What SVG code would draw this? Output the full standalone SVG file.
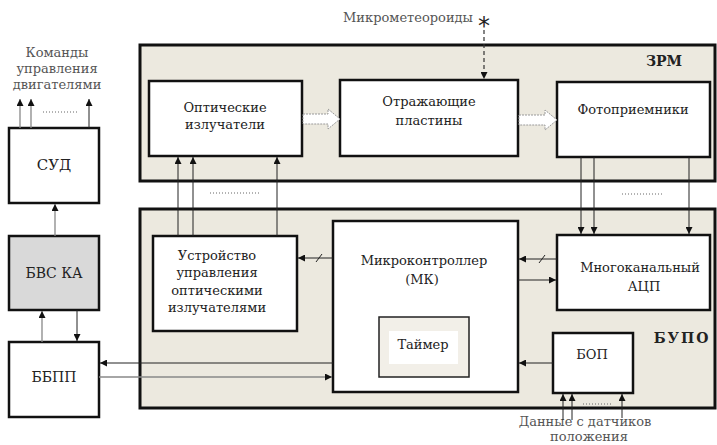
<svg xmlns="http://www.w3.org/2000/svg" width="717" height="445" viewBox="0 0 717 445">
<style>
.t{font-family:"DejaVu Serif","Liberation Serif",serif;font-size:13px;fill:#222;text-anchor:middle}
.g{font-family:"DejaVu Serif","Liberation Serif",serif;font-size:13px;fill:#555;text-anchor:middle}
.b{font-family:"DejaVu Serif","Liberation Serif",serif;font-size:14px;font-weight:bold;fill:#222;text-anchor:middle}
.outer{fill:#ece9df;stroke:#111;stroke-width:3}
.box{fill:#fff;stroke:#111;stroke-width:2.5}
.ln{stroke:#222;stroke-width:1;fill:none}
.gl{stroke:#888;stroke-width:1.3;fill:none}
.dots{stroke:#666;stroke-width:1;stroke-dasharray:1 2}
.hol{fill:#fff;stroke:#999;stroke-width:1;stroke-dasharray:2 1}
</style>
<defs>
<marker id="ah" viewBox="0 0 8 8" refX="8" refY="4" markerWidth="7" markerHeight="7" markerUnits="userSpaceOnUse" orient="auto">
<path d="M0,0 L8,4 L0,8 z" fill="#111"/>
</marker>
</defs>
<rect x="0" y="0" width="717" height="445" fill="#fff"/>

<g id="zrm">
<rect class="outer" x="140" y="45" width="575" height="136"/>
<text class="b" x="664" y="66">ЗРМ</text>
</g>
<g id="bupo">
<rect class="outer" x="140" y="209" width="575" height="199"/>
<text class="b" x="682" y="343" style="letter-spacing:2px">БУПО</text>
</g>

<g id="emitters">
<rect class="box" x="149" y="81" width="153" height="75"/>
<text class="t" x="225" y="112">Оптические</text>
<text class="t" x="225" y="129">излучатели</text>
</g>
<g id="plates">
<rect class="box" x="340" y="80" width="178" height="76"/>
<text class="t" x="429" y="106">Отражающие</text>
<text class="t" x="429" y="125">пластины</text>
</g>
<g id="photo">
<rect class="box" x="557" y="82" width="153" height="75"/>
<text class="t" x="633" y="114">Фотоприемники</text>
</g>
<g id="sud">
<rect class="box" x="9" y="128" width="90" height="75"/>
<text class="t" x="54" y="170" style="font-size:15px">СУД</text>
</g>
<g id="bvs">
<rect class="box" x="9" y="236" width="90" height="74" style="fill:#d9d9d9"/>
<text class="t" x="54" y="278" style="font-size:14px">БВС КА</text>
</g>
<g id="bbpp">
<rect class="box" x="9" y="342" width="90" height="75"/>
<text class="t" x="54" y="382" style="font-size:14px">ББПП</text>
</g>
<g id="uou">
<rect class="box" x="153" y="236" width="144" height="95"/>
<text class="t" x="217" y="260">Устройство</text>
<text class="t" x="217" y="277">управления</text>
<text class="t" x="217" y="295">оптическими</text>
<text class="t" x="217" y="312">излучателями</text>
</g>
<g id="mk">
<rect class="box" x="333" y="221" width="185" height="171"/>
<text class="t" x="424" y="265">Микроконтроллер</text>
<text class="t" x="422" y="284">(МК)</text>
</g>
<g id="timer">
<rect x="379" y="317" width="90" height="60" fill="#f2efe8" stroke="#222" stroke-width="1.5"/>
<rect x="389" y="331" width="69" height="33" fill="#fff"/>
<text class="t" x="423" y="349">Таймер</text>
</g>
<g id="adc">
<rect class="box" x="557" y="235" width="153" height="75"/>
<text class="t" x="640" y="272">Многоканальный</text>
<text class="t" x="644" y="291">АЦП</text>
</g>
<g id="bop">
<rect class="box" x="553" y="333" width="80" height="60"/>
<text class="t" x="592" y="359">БОП</text>
</g>

<g id="labels">
<text class="g" x="57" y="57">Команды</text>
<text class="g" x="57" y="73">управления</text>
<text class="g" x="57" y="89">двигателями</text>
<text class="g" x="408" y="22">Микрометеороиды</text>
<text x="484" y="34" style="font-family:'DejaVu Sans',sans-serif;font-size:24px;fill:#222;text-anchor:middle">*</text>
<text class="g" x="585" y="426">Данные с датчиков</text>
<text class="g" x="589" y="441">положения</text>
</g>

<g id="connectors">
<line class="gl" x1="20" y1="128" x2="20" y2="99" marker-end="url(#ah)"/>
<line class="gl" x1="31" y1="128" x2="31" y2="99" marker-end="url(#ah)"/>
<line class="ln" x1="89" y1="128" x2="89" y2="99" marker-end="url(#ah)"/>
<line class="dots" x1="43" y1="112" x2="77" y2="112"/>
<line class="gl" x1="55" y1="236" x2="55" y2="204" marker-end="url(#ah)"/>
<line class="gl" x1="42" y1="342" x2="42" y2="311" marker-end="url(#ah)"/>
<line class="ln" x1="77" y1="310" x2="77" y2="341" marker-end="url(#ah)"/>
<line class="ln" x1="333" y1="363" x2="100" y2="363" marker-end="url(#ah)"/>
<line class="gl" x1="99" y1="377" x2="332" y2="377" marker-end="url(#ah)"/>
<line class="ln" x1="178" y1="236" x2="178" y2="157" marker-end="url(#ah)"/>
<line class="ln" x1="193" y1="236" x2="193" y2="157" marker-end="url(#ah)"/>
<line class="ln" x1="277" y1="236" x2="277" y2="157" marker-end="url(#ah)"/>
<line class="dots" x1="210" y1="193" x2="259" y2="193"/>
<line class="ln" x1="581" y1="157" x2="581" y2="234" marker-end="url(#ah)"/>
<line class="ln" x1="594" y1="157" x2="594" y2="234" marker-end="url(#ah)"/>
<line class="ln" x1="689" y1="157" x2="689" y2="234" marker-end="url(#ah)"/>
<line class="dots" x1="622" y1="194" x2="662" y2="194"/>
<line class="ln" x1="333" y1="258" x2="298" y2="258" marker-end="url(#ah)"/>
<line class="ln" x1="316" y1="262" x2="322" y2="254"/>
<line class="ln" x1="557" y1="259" x2="519" y2="259" marker-end="url(#ah)"/>
<line class="ln" x1="539" y1="263" x2="545" y2="255"/>
<line class="ln" x1="518" y1="280" x2="556" y2="280" marker-end="url(#ah)"/>
<line class="ln" x1="553" y1="363" x2="519" y2="363" marker-end="url(#ah)"/>
<line class="ln" x1="563" y1="420" x2="563" y2="394" marker-end="url(#ah)"/>
<line class="ln" x1="572" y1="420" x2="572" y2="394" marker-end="url(#ah)"/>
<line class="ln" x1="622" y1="418" x2="622" y2="394" marker-end="url(#ah)"/>
<line class="dots" x1="583" y1="404" x2="611" y2="404"/>
<line x1="484" y1="30" x2="484" y2="79" stroke="#333" stroke-width="1.2" stroke-dasharray="4 3" marker-end="url(#ah)"/>
<path class="hol" d="M303,114 L328,114 L328,109 L340,119 L328,129 L328,124 L303,124 z"/>
<path class="hol" d="M519,115 L545,115 L545,110 L557,120 L545,130 L545,125 L519,125 z"/>
</g>
</svg>
